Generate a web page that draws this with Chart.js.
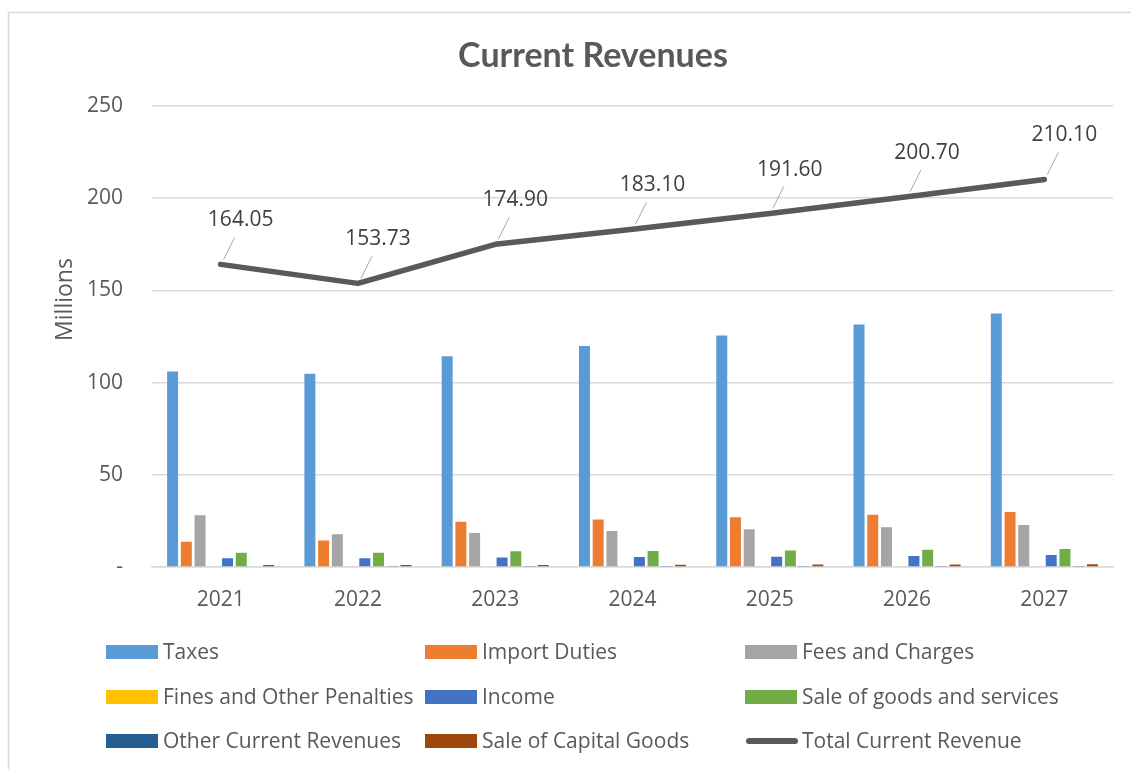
<!DOCTYPE html>
<html>
<head>
<meta charset="utf-8">
<script src="https://cdn.jsdelivr.net/npm/chart.js@4.4.1/dist/chart.umd.min.js"></script>
<style>
html,body{margin:0;padding:0;background:#fff;}
#wrap{position:relative;width:1131px;height:769px;}
</style>
</head>
<body>
<div id="wrap"><canvas id="c" width="1131" height="769"></canvas></div>
<script>
const years = ['2021','2022','2023','2024','2025','2026','2027'];
const taxes = [106.0, 104.8, 114.3, 119.8, 125.5, 131.5, 137.4];
const importDuties = [13.7, 14.4, 24.5, 25.8, 27.0, 28.3, 29.8];
const feesCharges = [28.1, 17.7, 18.4, 19.5, 20.4, 21.6, 22.7];
const finesPenalties = [0, 0, 0, 0, 0, 0, 0];
const income = [4.7, 4.7, 5.2, 5.4, 5.6, 5.9, 6.5];
const saleGoods = [7.7, 7.7, 8.5, 8.7, 9.0, 9.4, 9.7];
const otherCurrent = [0, 0.3, 0.5, 0.5, 0.5, 0.5, 0.5];
const saleCapital = [1.1, 1.1, 1.1, 1.2, 1.4, 1.4, 1.5];
const totalRevenue = [164.05, 153.73, 174.90, 183.10, 191.60, 200.70, 210.10];
const yTicks = [0, 50, 100, 150, 200, 250];

const FONT = '"Open Sans", sans-serif';
const TXT = '#595959';

function bar(label, data, color) {
  return { type: 'bar', label, data, backgroundColor: color, borderWidth: 0, order: 2,
           categoryPercentage: 0.8, barPercentage: 0.8 };
}

const datasets = [
  bar('Taxes', taxes, '#5B9BD5'),
  bar('Import Duties', importDuties, '#ED7D31'),
  bar('Fees and Charges', feesCharges, '#A5A5A5'),
  bar('Fines and Other Penalties', finesPenalties, '#FFC000'),
  bar('Income', income, '#4472C4'),
  bar('Sale of goods and services', saleGoods, '#70AD47'),
  bar('Other Current Revenues', otherCurrent, '#255E91'),
  bar('Sale of Capital Goods', saleCapital, '#9E480E'),
  { type: 'line', label: 'Total Current Revenue', data: totalRevenue, borderColor: '#595959', backgroundColor: '#595959',
    borderWidth: 5.5, pointRadius: 0, tension: 0, order: 1, borderCapStyle: 'round', borderJoinStyle: 'round' }
];

const framePlugin = {
  id: 'frame',
  beforeDraw(chart) {
    const ctx = chart.ctx;
    ctx.save();
    ctx.fillStyle = '#fff';
    ctx.fillRect(0, 0, chart.width, chart.height);
    ctx.strokeStyle = '#d9d9d9';
    ctx.lineWidth = 1.5;
    ctx.strokeRect(8.5, 12.5, 1300, 1000);
    ctx.restore();
  },
  afterDraw(chart) {
    const ctx = chart.ctx;
    const a = chart.chartArea;
    ctx.save();
    ctx.translate(65, a.top + (a.bottom - a.top) * 0.42);
    ctx.rotate(-Math.PI / 2);
    ctx.fillStyle = TXT;
    ctx.font = '23px ' + FONT;
    ctx.textAlign = 'center';
    ctx.textBaseline = 'middle';
    ctx.fillText('Millions', 0, 0);
    ctx.restore();
  }
};

const lineLabelPlugin = {
  id: 'lineLabels',
  afterDatasetsDraw(chart) {
    const idx = chart.data.datasets.findIndex(d => d.type === 'line');
    const meta = chart.getDatasetMeta(idx);
    const ds = chart.data.datasets[idx];
    const ctx = chart.ctx;
    ctx.save();
    meta.data.forEach((pt, i) => {
      ctx.strokeStyle = '#a6a6a6';
      ctx.lineWidth = 1;
      ctx.beginPath();
      ctx.moveTo(pt.x + 3, pt.y - 5);
      ctx.lineTo(pt.x + 14, pt.y - 27);
      ctx.stroke();
      ctx.fillStyle = '#404040';
      ctx.font = '21px ' + FONT;
      ctx.textAlign = 'center';
      ctx.textBaseline = 'middle';
      ctx.fillText(ds.data[i].toFixed(2), pt.x + 20, pt.y - 44);
    });
    ctx.restore();
  }
};

const legendPlugin = {
  id: 'gridLegend',
  afterDraw(chart) {
    const ctx = chart.ctx;
    const cols = [106, 425, 745];
    const rows = [652, 697, 741];
    ctx.save();
    ctx.font = '21px ' + FONT;
    ctx.textBaseline = 'middle';
    ctx.textAlign = 'left';
    chart.data.datasets.forEach((ds, i) => {
      const x = cols[i % 3];
      const y = rows[Math.floor(i / 3)];
      if (ds.type === 'line') {
        ctx.strokeStyle = ds.borderColor;
        ctx.lineWidth = 6;
        ctx.lineCap = 'round';
        ctx.beginPath();
        ctx.moveTo(x + 4, y);
        ctx.lineTo(x + 50, y);
        ctx.stroke();
      } else {
        ctx.fillStyle = ds.backgroundColor;
        ctx.fillRect(x, y - 7, 52, 14);
      }
      ctx.fillStyle = TXT;
      ctx.fillText(ds.label, x + 57, y + 1);
    });
    ctx.restore();
  }
};

new Chart(document.getElementById('c'), {
  data: { labels: years, datasets },
  options: {
    responsive: false,
    animation: false,
    layout: { padding: { left: 73, right: 18, top: 12, bottom: 152 } },
    plugins: {
      legend: { display: false },
      tooltip: { enabled: false },
      title: {
        display: true,
        text: 'Current Revenues',
        color: TXT,
        font: { family: 'Lato, sans-serif', size: 34, weight: 'bold' },
        padding: { top: 24, bottom: 29 }
      }
    },
    scales: {
      x: {
        grid: { display: false, drawTicks: false },
        border: { display: true, color: '#d9d9d9', width: 1.5 },
        ticks: { color: TXT, font: { family: FONT, size: 21 }, padding: 20 },
        afterFit(s) { s.height = 50; }
      },
      y: {
        min: 0, max: 250,
        afterBuildTicks(s) { s.ticks = yTicks.map(v => ({ value: v })); },
        grid: { color: '#d9d9d9', lineWidth: 1.5, drawTicks: false },
        border: { display: false },
        ticks: { color: TXT, font: { family: FONT, size: 21 }, padding: 29,
                 callback: v => v === 0 ? '-' : String(v) },
        afterFit(s) { s.width = 79; }
      }
    }
  },
  plugins: [framePlugin, lineLabelPlugin, legendPlugin]
});
</script>
</body>
</html>
